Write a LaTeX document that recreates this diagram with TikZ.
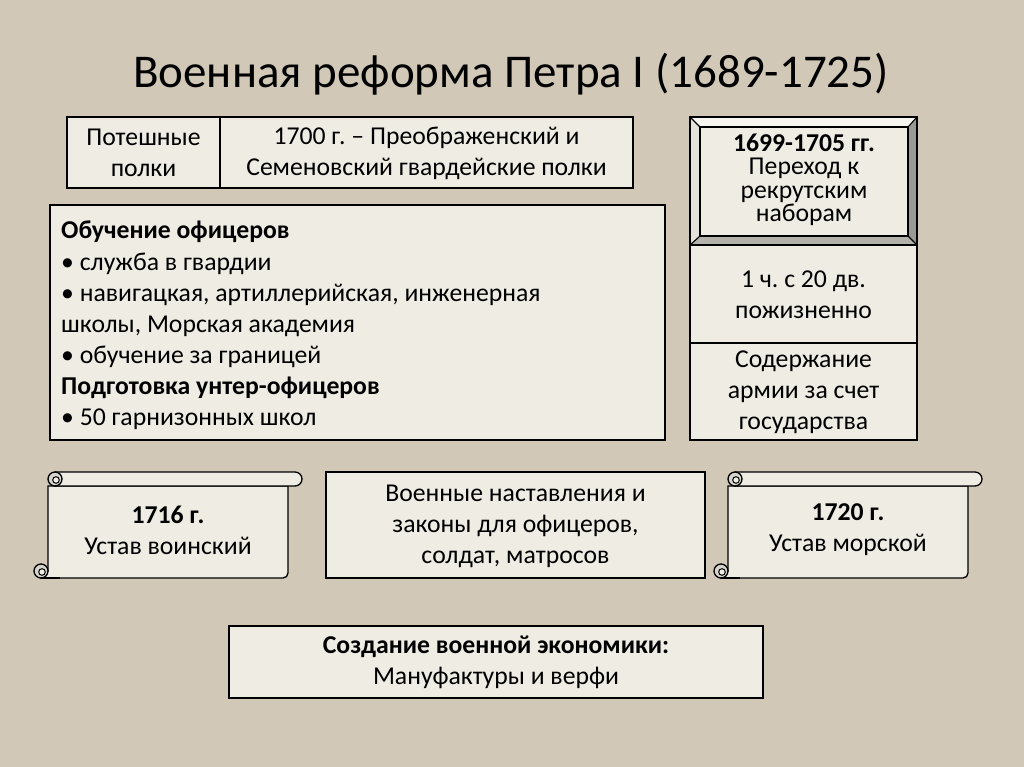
\documentclass[tikz,border=0pt]{standalone}
\usepackage{fontspec}
\setmainfont{Carlito}
\definecolor{bg}{HTML}{D1C8B7}
\definecolor{boxfill}{HTML}{EEECE3}
\definecolor{curl}{HTML}{D6D4CB}
\definecolor{bevtop}{HTML}{F7F6F1}
\definecolor{bevleft}{HTML}{E4E2DA}
\definecolor{bevright}{HTML}{9A9994}
\definecolor{bevbot}{HTML}{B2B1AB}
\tikzset{
  boxline/.style={draw=black, line width=1.3pt, fill=boxfill},
  txt/.style={font=\fontsize{25.7}{31}\selectfont, align=center, inner sep=0pt, text=black},
  ln/.style={font=\fontsize{25.7}{31}\selectfont, anchor=base west, inner sep=0pt, text=black},
}
\frenchspacing
\begin{document}
\frenchspacing
\begin{tikzpicture}[x=1pt,y=-1pt]
\useasboundingbox (0,0) rectangle (1024,767);
\fill[bg] (0,0) rectangle (1024,767);

% title
\node[font=\fontsize{47}{50}\selectfont, anchor=base, inner sep=0pt] (title) at (511,88) {Военная реформа Петра I (1689-1725)};

% top table
\draw[boxline] (67,117) rectangle (633,188);
\draw[line width=1.3pt] (220,117) -- (220,188);
\node[txt] (poteshnye) at (143.5,153) {Потешные\\полки};
\node[txt] (gvard) at (426.5,153) {1700 г. – Преображенский и\\Семеновский гвардейские полки};

% big education box
\draw[boxline] (50,205) rectangle (665,440);
\node[ln] (l1) at (61,239) {\bfseries Обучение офицеров};
\node[ln] (l2) at (61,270) {• служба в гвардии};
\node[ln] (l3) at (61,301) {• навигацкая, артиллерийская, инженерная};
\node[ln] (l4) at (61,332) {школы, Морская академия};
\node[ln] (l5) at (61,363) {• обучение за границей};
\node[ln] (l6) at (61,394) {\bfseries Подготовка унтер-офицеров};
\node[ln] (l7) at (61,425) {• 50 гарнизонных школ};

% right column
\draw[boxline] (690,245) rectangle (917,343);
\draw[boxline] (690,343) rectangle (917,440);
\node[txt] (pozhiz) at (803.5,295) {1 ч. с 20 дв.\\пожизненно};
\node[txt] (soderzh) at (803.5,392) {Содержание\\армии за счет\\государства};

% bevel box
\fill[boxfill] (700,127) rectangle (908,236);
\fill[bevtop] (690,117) -- (917,117) -- (908,127) -- (700,127) -- cycle;
\fill[bevleft] (690,117) -- (700,127) -- (700,236) -- (690,245) -- cycle;
\fill[bevright] (917,117) -- (917,245) -- (908,236) -- (908,127) -- cycle;
\fill[bevbot] (690,245) -- (917,245) -- (908,236) -- (700,236) -- cycle;
\draw[line width=1.3pt] (690,117) rectangle (917,245);
\draw[line width=1.1pt] (700,127) rectangle (908,236);
\draw[line width=1.1pt] (690,117) -- (700,127) (917,117) -- (908,127) (690,245) -- (700,236) (917,245) -- (908,236);
\node[txt, font=\fontsize{25.7}{23.5}\selectfont] (rekrut) at (804,180) {\textbf{1699-1705 гг.}\\Переход к\\рекрутским\\наборам};

% scrolls
\foreach \ox in {0, 680}{
  \begin{scope}[xshift=\ox]
    \draw[boxline] (48,486) -- (48,571) -- (41,578) -- (283,578) arc[start angle=90, end angle=0, radius=5] -- (288,486) -- cycle;
    \draw[boxline] (55,472) -- (295,472) arc[start angle=-90, end angle=90, radius=7] -- (55,486) -- cycle;
    \filldraw[fill=curl, line width=1.3pt] (55,479) circle[radius=7];
    \draw[line width=1pt, fill=boxfill] (56,480) circle[radius=3.3];
    \filldraw[fill=curl, line width=1.3pt] (41,571) circle[radius=7];
    \draw[line width=1pt, fill=boxfill] (42,572) circle[radius=3.3];
    \draw[line width=1.3pt] (41,578) -- (60,578);
  \end{scope}
}
\node[txt] (ustav1) at (168,530) {\textbf{1716 г.}\\Устав воинский};
\node[txt] (ustav2) at (848,530) {\textbf{1720 г.}\\Устав морской};

% middle box
\draw[boxline] (326,472) rectangle (705,578);
\node[txt] (nastav) at (515.5,526) {Военные наставления и\\законы для офицеров,\\солдат, матросов};

% bottom box
\draw[boxline] (229,626) rectangle (763,698);
\node[txt] (econ) at (496,662) {\textbf{Создание военной экономики:}\\Мануфактуры и верфи};
\end{tikzpicture}
\end{document}
